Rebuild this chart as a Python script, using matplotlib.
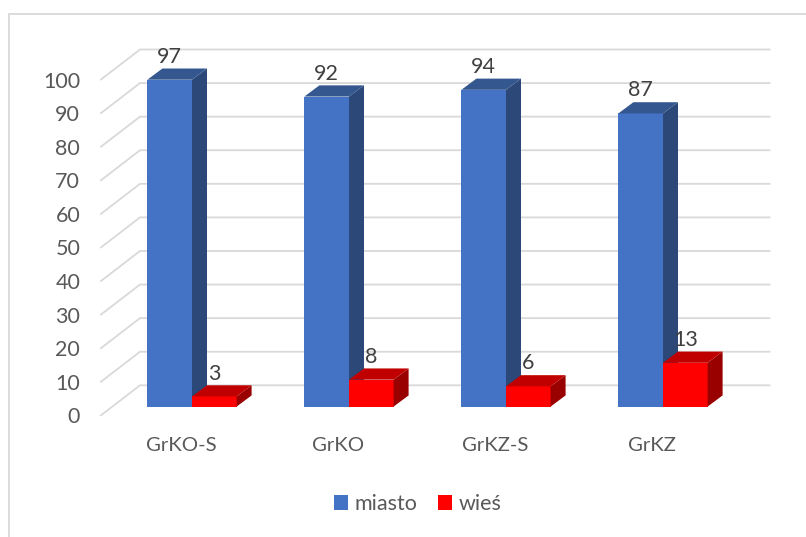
import matplotlib
matplotlib.use("Agg")
import matplotlib.pyplot as plt
from matplotlib.patches import Rectangle

categories = ["GrKO-S", "GrKO", "GrKZ-S", "GrKZ"]
miasto = [97, 92, 94, 87]
wies = [3, 8, 6, 13]
y_ticks = [0, 10, 20, 30, 40, 50, 60, 70, 80, 90, 100]

W, H = 806, 537
plt.rcParams["font.family"] = ["Lato", "DejaVu Sans"]
fig = plt.figure(figsize=(W / 100, H / 100), dpi=100)
fig.patch.set_facecolor("white")

GRID = "#D9D9D9"
TEXT = "#595959"
LABEL = "#404040"
FS = 15.5


def axes_px(left, right, y_bottom, y_top, **kw):
    return fig.add_axes([left / W, 1 - y_bottom / H, (right - left) / W,
                         (y_bottom - y_top) / H], **kw)


# outer chart frame, running off the canvas at the right and bottom
fig.add_artist(Rectangle((9 / W, -0.1), 1.1, 1 - 14 / H + 0.1,
                         transform=fig.transFigure, fill=False,
                         edgecolor=GRID, linewidth=1.3))

LEFT, RIGHT = 101, 769.5
STEP = 157.0

# floor/wall axes: holds tick labels and gridlines
ax_w = axes_px(LEFT, RIGHT, 415.3, 79.5, zorder=1)
ax_w.patch.set_visible(False)
ax_w.set_xlim((LEFT - 181) / STEP, (RIGHT - 181) / STEP)
ax_w.set_ylim(0, 100)
for s in ax_w.spines.values():
    s.set_visible(False)
ax_w.set_yticks(y_ticks)
ax_w.set_xticks(range(len(categories)))
ax_w.set_xticklabels(categories)
ax_w.tick_params(axis="y", length=0, pad=15, labelsize=FS, labelcolor=TEXT)
ax_w.tick_params(axis="x", length=0, pad=15.5, labelsize=FS - 0.8, labelcolor=TEXT)

x0, x1 = ax_w.get_xlim()
wall_dx = 39 / STEP
wall_dy = 30 / 3.358
for v in y_ticks:
    ax_w.plot([x0, x0 + wall_dx, x1], [v, v + wall_dy, v + wall_dy],
              color=GRID, lw=1.3, clip_on=False, solid_joinstyle="miter")

# bar axes
ax = axes_px(LEFT, RIGHT, 406.6, 69.6, zorder=2)
ax.patch.set_visible(False)
ax.set_xlim((LEFT - 192) / STEP, (RIGHT - 192) / STEP)
ax.set_ylim(0, 100)
ax.axis("off")

BW = 44.6 / STEP
DX = 15 / STEP
DY = 11.2 / 3.37


def bar3d(xs, vals, front, side, top, label):
    bars = ax.bar(xs, vals, width=BW, align="edge", color=front,
                  linewidth=0, clip_on=False, label=label)
    for x, v in zip(xs, vals):
        r = x + BW
        ax.fill([r, r + DX, r + DX, r], [0, DY, v + DY, v],
                color=side, lw=0, clip_on=False)
        ax.fill([x, x + DX, r + DX, r], [v, v + DY, v + DY, v],
                color=top, lw=0, clip_on=False)
        ax.annotate(str(v), (x + BW / 2, v), xytext=(0, 16.5),
                    textcoords="offset points", ha="center", va="center",
                    fontsize=FS, color=LABEL, annotation_clip=False)
    return bars


pos = list(range(len(categories)))
b1 = bar3d([p - BW for p in pos], miasto, "#4472C4", "#2B4878", "#34578F", "miasto")
b2 = bar3d(pos, wies, "#FF0000", "#990000", "#C00000", "wieś")

fig.legend(handles=[b1, b2], labels=["miasto", "wieś"], loc="center",
           bbox_to_anchor=(418 / W, 1 - 504 / H), ncol=2, frameon=False,
           fontsize=FS, labelcolor=TEXT, handlelength=0.65, handleheight=0.65,
           handletextpad=0.3, columnspacing=0.95, borderpad=0, borderaxespad=0)

fig.savefig("out.png", dpi=100)
